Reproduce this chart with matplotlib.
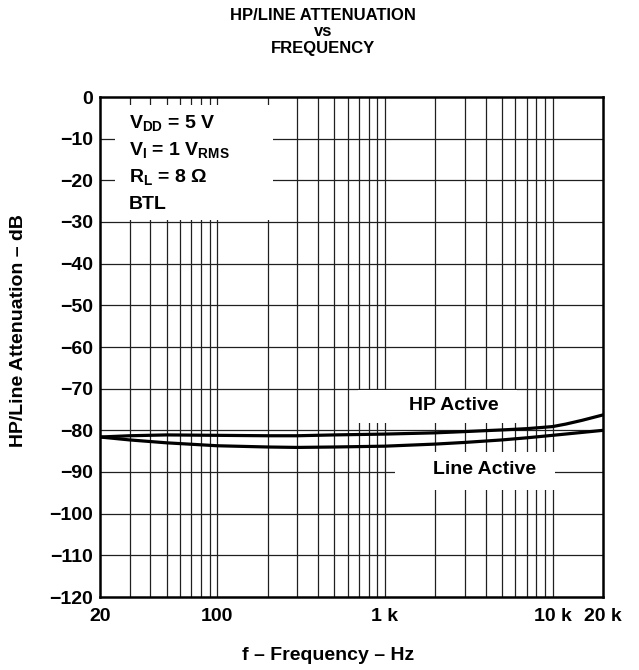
import matplotlib
matplotlib.use("Agg")
import matplotlib.pyplot as plt
from matplotlib.patches import Rectangle

plt.rcParams['font.family'] = ['Liberation Sans', 'DejaVu Sans']
plt.rcParams['font.weight'] = 'bold'
plt.rcParams['mathtext.fontset'] = 'custom'
plt.rcParams['mathtext.rm'] = 'Liberation Sans:bold'
plt.rcParams['mathtext.bf'] = 'Liberation Sans:bold'
plt.rcParams['mathtext.it'] = 'Liberation Sans:bold'

# HP Active (upper curve)
freq_hp = [20, 30, 50, 100, 200, 300, 500, 1000, 2000, 3000, 5000, 7000, 10000, 12000, 15000, 20000]
att_hp = [-81.6, -81.3, -81.1, -81.2, -81.3, -81.3, -81.1, -80.9, -80.6, -80.3, -79.9, -79.6, -79.1, -78.5, -77.6, -76.3]

# Line Active (lower curve)
freq_line = [20, 30, 50, 100, 200, 300, 500, 1000, 2000, 3000, 5000, 7000, 10000, 15000, 20000]
att_line = [-81.6, -82.3, -83.0, -83.7, -84.0, -84.1, -84.0, -83.8, -83.3, -82.9, -82.3, -81.8, -81.2, -80.5, -80.0]

xticks = [20, 100, 1000, 10000, 20000]
xtick_labels = ["20", "100", "1 k", "10 k", "20 k"]
yticks = list(range(-120, 1, 10))
ytick_labels = ["\u2212%d" % -v if v < 0 else "0" for v in yticks]

FS = 14

fig = plt.figure(figsize=(6.39, 6.70), dpi=100)
ax = fig.add_axes([100 / 639, 73 / 670, 503 / 639, 500 / 670])

ax.set_xscale("log")
ax.set_xlim(20, 20000)
ax.set_ylim(-120, 0)

# grid lines
minor = [m * d for d in (10, 100, 1000) for m in range(2, 10) if 20 < m * d < 20000]
for f in minor + [100, 1000, 10000]:
    ax.axvline(f, color="#202020", lw=0.9, zorder=1)
for v in yticks[1:-1]:
    ax.axhline(v, color="#202020", lw=0.9, zorder=1)

# white boxes behind the labels
for (x0, y0, w, h) in [(0.030, 0.754, 0.314, 0.230),
                       (0.513, 0.348, 0.316, 0.066),
                       (0.586, 0.214, 0.319, 0.076)]:
    ax.add_patch(Rectangle((x0, y0), w, h, transform=ax.transAxes,
                           facecolor="white", edgecolor="none", zorder=2))

ax.plot(freq_hp, att_hp, color="black", lw=2.3, zorder=3)
ax.plot(freq_line, att_line, color="black", lw=2.3, zorder=3)

ax.text(0.704, 0.384, "HP Active", transform=ax.transAxes, ha="center", va="center",
        fontsize=FS, fontweight="bold", zorder=4)
ax.text(0.765, 0.254, "Line Active", transform=ax.transAxes, ha="center", va="center",
        fontsize=FS, fontweight="bold", zorder=4)

cond = [r"$V_{DD}$ = 5 V", r"$V_{I}$ = 1 $V_{RMS}$", r"$R_{L}$ = 8 $\Omega$", "BTL"]
for i, s in enumerate(cond):
    ax.text(0.058, 0.948 - i * 0.054, s, transform=ax.transAxes, ha="left", va="center",
            fontsize=FS, fontweight="bold", zorder=4)

ax.set_xticks(xticks)
ax.set_xticklabels(xtick_labels)
ax.xaxis.set_minor_locator(matplotlib.ticker.NullLocator())
ax.set_yticks(yticks)
ax.set_yticklabels(ytick_labels)
ax.tick_params(axis="both", length=0, labelsize=FS)
ax.tick_params(axis="x", pad=8)
ax.tick_params(axis="y", pad=5)
for lab in ax.get_xticklabels() + ax.get_yticklabels():
    lab.set_fontweight("bold")

for sp in ax.spines.values():
    sp.set_linewidth(1.8)
    sp.set_zorder(5)

ax.set_xlabel("f \u2013 Frequency \u2013 Hz", fontsize=FS, fontweight="bold")
ax.xaxis.set_label_coords((328 - 100) / 503, -(655 - 597) / 500)
ax.xaxis.label.set_va("center")
ax.set_ylabel("HP/Line Attenuation \u2013 dB", fontsize=FS, fontweight="bold")
ax.yaxis.set_label_coords(-(100 - 19) / 503, (597 - 331) / 500)
ax.yaxis.label.set_va("center")
fig.text(323 / 639, 1 - 32 / 670, "HP/LINE ATTENUATION\nvs\nFREQUENCY", ha="center", va="center",
         fontsize=12, fontweight="bold", linespacing=1.1)

fig.savefig("out.png", dpi=100)
